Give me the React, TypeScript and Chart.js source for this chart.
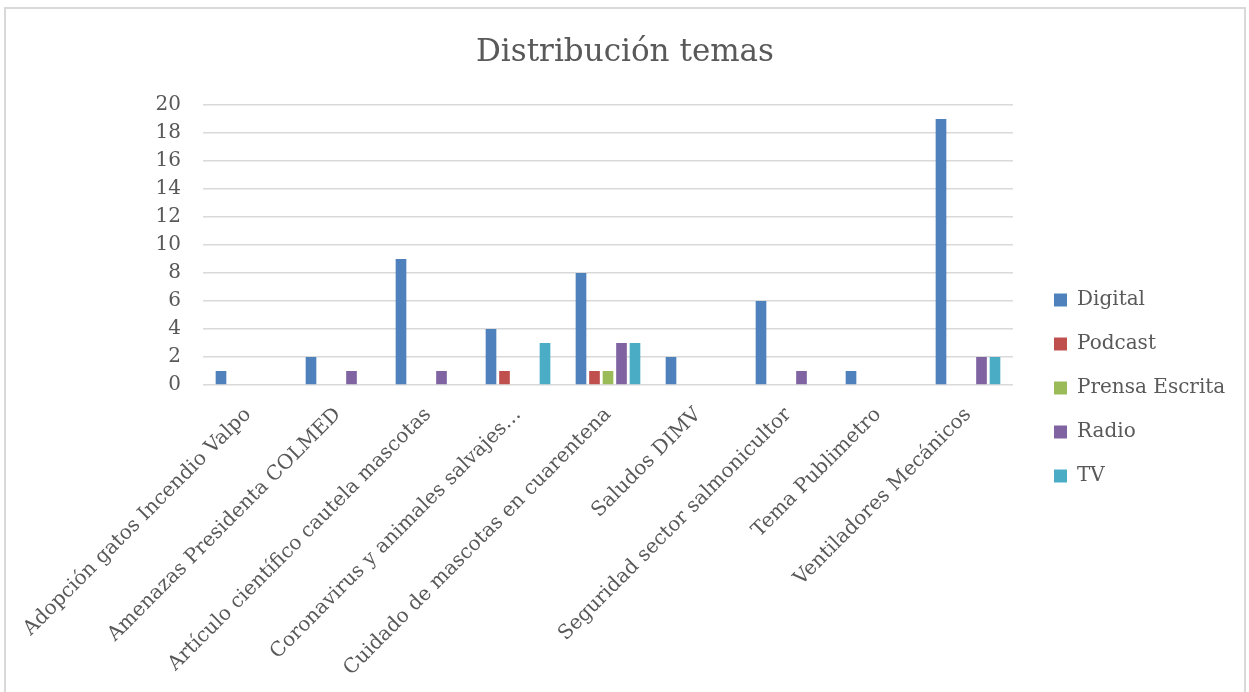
import React, { useEffect, useRef } from 'react';
import { Chart, registerables } from 'chart.js';

Chart.register(...registerables);

const categories = [
  'Adopción gatos Incendio Valpo',
  'Amenazas Presidenta COLMED',
  'Artículo científico cautela mascotas',
  'Coronavirus y animales salvajes…',
  'Cuidado de mascotas en cuarentena',
  'Saludos DIMV',
  'Seguridad sector salmonicultor',
  'Tema Publimetro',
  'Ventiladores Mecánicos',
];

const seriesNames = ['Digital', 'Podcast', 'Prensa Escrita', 'Radio', 'TV'];
const digital = [1, 2, 9, 4, 8, 2, 6, 1, 19];
const podcast = [0, 0, 0, 1, 1, 0, 0, 0, 0];
const prensaEscrita = [0, 0, 0, 0, 1, 0, 0, 0, 0];
const radio = [0, 1, 1, 0, 3, 0, 1, 0, 2];
const tv = [0, 0, 0, 3, 3, 0, 0, 0, 2];
const seriesColors = ['#4F81BD', '#C0504D', '#9BBB59', '#8064A2', '#4BACC6'];

const titleText = 'Distribución temas';
const yMax = 20;
const yStep = 2;

const FONT = "'DejaVu Serif', serif";
const TEXT = '#595959';

const legendPlace = {
  id: 'legendPlace',
  afterLayout(chart: any) {
    const lg = chart.legend;
    if (!lg) return;
    lg.left = 1024;
    lg.right = chart.width;
    lg.width = lg.right - lg.left;
    lg.top += 2;
    lg.bottom += 2;
  },
};

export default function App() {
  const ref = useRef<HTMLCanvasElement>(null);

  useEffect(() => {
    if (!ref.current) return;
    const allSeries = [digital, podcast, prensaEscrita, radio, tv];
    const chart = new Chart(ref.current, {
      type: 'bar',
      data: {
        labels: categories,
        datasets: allSeries.map((d, i) => ({
          label: seriesNames[i],
          data: d,
          backgroundColor: seriesColors[i],
          borderWidth: 0,
          categoryPercentage: 0.75,
          barPercentage: 0.79,
        })),
      },
      options: {
        responsive: false,
        animation: false,
        layout: { padding: 0 },
        plugins: {
          title: {
            display: true,
            text: titleText,
            color: TEXT,
            font: { family: FONT, size: 31, weight: 'normal', lineHeight: 1.2 },
            padding: { top: 25, bottom: 33.8 },
          },
          legend: {
            position: 'right',
            maxWidth: 100,
            labels: {
              color: TEXT,
              font: { family: FONT, size: 20 },
              boxWidth: 13,
              boxHeight: 13,
              padding: 24,
            },
          },
          tooltip: { enabled: false },
        },
        scales: {
          x: {
            grid: { display: false },
            border: { display: false },
            ticks: {
              color: TEXT,
              font: { family: FONT, size: 20 },
              maxRotation: 45,
              minRotation: 45,
              autoSkip: false,
              padding: 10,
            },
            afterFit: (s: any) => {
              s.height = 378;
            },
          },
          y: {
            min: 0,
            max: yMax,
            grid: { color: '#d9d9d9', lineWidth: 1.6, drawTicks: false },
            border: { display: false },
            ticks: {
              stepSize: yStep,
              color: TEXT,
              font: { family: FONT, size: 20 },
              padding: 22,
            },
            afterFit: (s: any) => {
              s.width = 197;
            },
          },
          gap: {
            type: 'linear',
            position: 'right',
            display: true,
            grid: { display: false, drawTicks: false },
            border: { display: false },
            ticks: { display: false },
            afterFit: (s: any) => {
              s.width = 131;
            },
          },
        },
      },
      plugins: [legendPlace],
    });
    return () => chart.destroy();
  }, []);

  return (
    <div style={{ position: 'fixed', inset: 0, overflow: 'hidden', background: '#fff' }}>
      <div
        style={{
          position: 'absolute',
          left: 4,
          top: 7,
          width: 1238,
          height: 754,
          border: '2px solid #d9d9d9',
        }}
      >
        <canvas ref={ref} width={1238} height={754} style={{ display: 'block' }} />
      </div>
    </div>
  );
}
